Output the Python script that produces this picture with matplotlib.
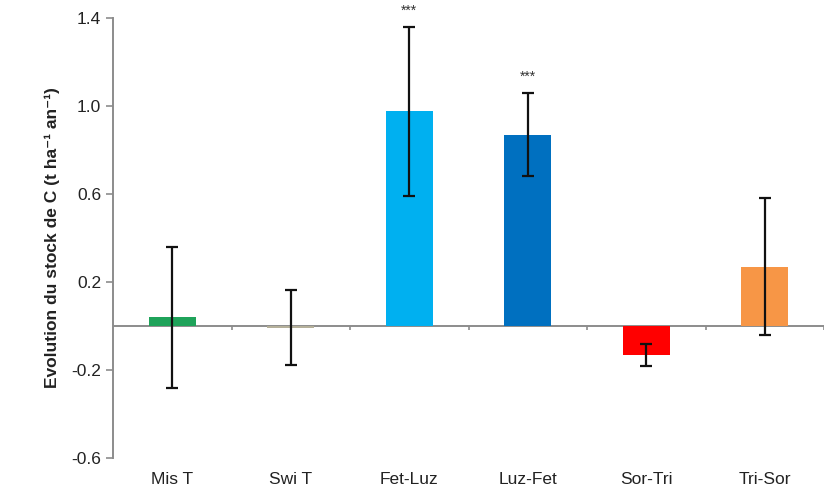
import matplotlib
matplotlib.use("Agg")
import matplotlib.pyplot as plt
import numpy as np

# data
categories = ["Mis T", "Swi T", "Fet-Luz", "Luz-Fet", "Sor-Tri", "Tri-Sor"]
values = [0.04, -0.008, 0.975, 0.87, -0.13, 0.27]
errors = [0.32, 0.17, 0.385, 0.19, 0.05, 0.31]
colors = ["#1fa35a", "#b5b09a", "#00b0f0", "#0070c0", "#ff0000", "#f79646"]
stars = ["", "", "***", "***", "", ""]
yticks = [-0.6, -0.2, 0.2, 0.6, 1.0, 1.4]

plt.rcParams['font.family'] = ['Liberation Sans', 'DejaVu Sans']

fig = plt.figure(figsize=(8.37, 4.98), dpi=100)
ax = fig.add_axes([0.135, 0.0803, 0.8495, 0.8836])

x = np.arange(len(categories))
ax.bar(x, values, width=0.4, color=colors, zorder=2)
ax.errorbar(x, values, yerr=errors, fmt="none", ecolor="#111111",
            elinewidth=1.6, capsize=4, capthick=1.6, zorder=3)

# zero line with category separators
ax.axhline(0, color="#8c8c8c", lw=1.4, zorder=1)
ax.vlines(np.arange(len(categories)) + 0.5, -0.018, 0, color="#8c8c8c", lw=1.2)

for xi, v, e, s in zip(x, values, errors, stars):
    if s:
        ax.text(xi, v + e + 0.04, s, ha="center", va="bottom",
                fontsize=10, color="#333333")

ax.set_xlim(-0.5, 5.5)
ax.set_ylim(-0.6, 1.4)
ax.set_yticks(yticks)
ax.set_yticklabels(["%.1f" % t for t in yticks])
ax.set_xticks(x)
ax.set_xticklabels(categories)
ax.tick_params(axis="x", length=0, pad=10, labelsize=12.5, colors="#222222")
ax.tick_params(axis="y", length=5, width=1.2, colors="#8c8c8c",
               labelsize=12.5, labelcolor="#222222")

for sp in ["top", "right", "bottom"]:
    ax.spines[sp].set_visible(False)
ax.spines["left"].set_color("#8c8c8c")
ax.spines["left"].set_linewidth(1.4)

ax.set_ylabel("Evolution du stock de C (t ha\u207b\u00b9 an\u207b\u00b9)",
              fontsize=12.5, fontweight="bold", color="#222222", labelpad=8)

fig.savefig("out.png", dpi=100, facecolor="white")
